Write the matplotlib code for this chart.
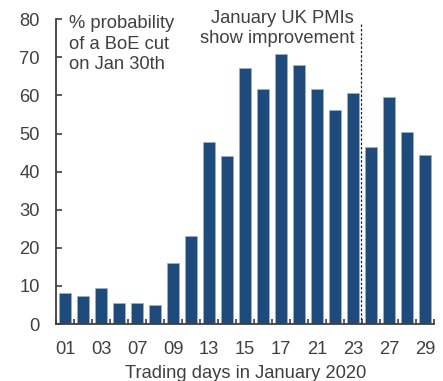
import numpy as np
import matplotlib.pyplot as plt

# Data
days = ["01", "02", "03", "06", "07", "08", "09", "10", "13", "14", "15",
        "16", "17", "20", "21", "22", "23", "24", "27", "28", "29"]
prob = [8.2, 7.3, 9.4, 5.4, 5.6, 4.9, 16.0, 23.0, 47.8, 44.2, 67.2,
        61.8, 70.8, 67.9, 61.8, 56.1, 60.6, 46.5, 59.7, 50.3, 44.4]
pmi_day_index = 16.45  # dashed line just after the 23rd

plt.rcParams['font.family'] = ['Liberation Sans', 'DejaVu Sans']
text_col = "#404040"
fs = 13.2

fig = plt.figure(figsize=(4.43, 3.81), dpi=100)
ax = fig.add_axes([0.127, 0.1496, 0.853, 0.80])

x = np.arange(len(days))
ax.bar(x, prob, width=0.68, color="#1f4a7c", edgecolor="#9fb3cc", linewidth=0.4)

ax.axvline(pmi_day_index, ymin=0, ymax=0.985, color="#222222", linestyle=(0, (2, 1.5)),
           linewidth=0.9)

ax.set_xlim(-0.5, 20.5)
ax.set_ylim(0, 80)
ax.set_yticks(range(0, 81, 10))

ax.set_xticks(x[::2])
ax.set_xticklabels(days[::2])
ax.set_xticks(np.arange(-0.5, 21, 1), minor=True)
ax.tick_params(axis="x", which="major", length=0, pad=12, labelsize=fs, labelcolor=text_col)
ax.tick_params(axis="x", which="minor", direction="in", length=3.5, width=1.2, color=text_col)
ax.tick_params(axis="y", direction="in", length=4, width=1.2, color=text_col, pad=12,
               labelsize=fs, labelcolor=text_col)

for side in ["top", "right"]:
    ax.spines[side].set_visible(False)
for side in ["left", "bottom"]:
    ax.spines[side].set_color(text_col)
    ax.spines[side].set_linewidth(1.3)

ax.set_xlabel("Trading days in January 2020", fontsize=fs, color=text_col, labelpad=5)

ax.text(0.2, 81.0, "% probability\nof a BoE cut\non Jan 30th", fontsize=fs,
        color=text_col, va="top", ha="left", linespacing=1.25)
ax.text(16.05, 82.3, "January UK PMIs\nshow improvement", fontsize=fs,
        color=text_col, va="top", ha="right", linespacing=1.2)

fig.savefig("out.png", dpi=100)
